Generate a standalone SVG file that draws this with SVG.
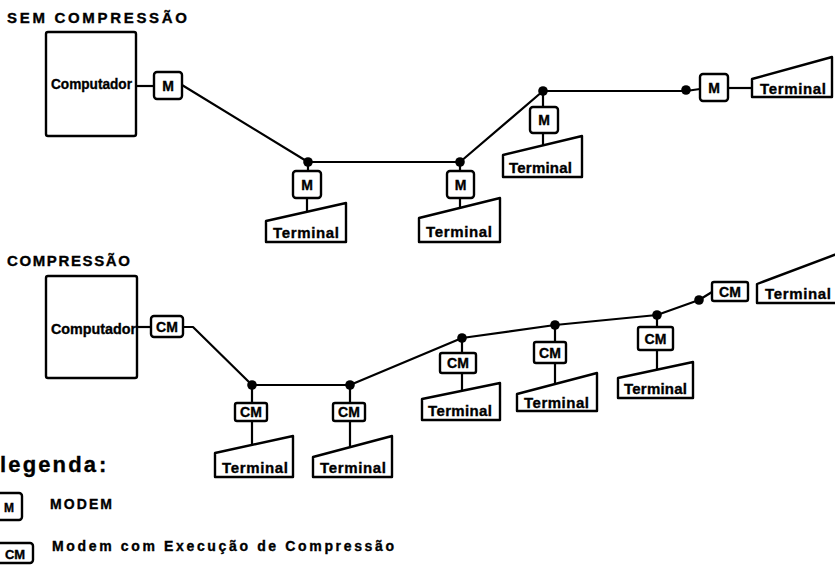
<svg xmlns="http://www.w3.org/2000/svg" width="835" height="565" viewBox="0 0 835 565">
  <style>
    .bg { fill: #ffffff; }
    .box { fill: #ffffff; stroke: #000000; stroke-width: 2.4; stroke-linejoin: round; }
    .line { fill: none; stroke: #000000; stroke-width: 2.2; stroke-linejoin: round; }
    .dot { fill: #000000; }
    .t { font-family: "Liberation Sans", Arial, sans-serif; font-weight: bold; fill: #000000; stroke: #000000; stroke-width: 0.35; }
    .title { font-size: 15px; }
    .lbl { font-size: 14.5px; }
    .term { font-size: 15px; }
    .mod { font-size: 14px; text-anchor: middle; }
    .leg { font-size: 22px; }
    .legtxt { font-size: 14px; }
  </style>
  <defs>
    <circle id="jn" r="4.8" class="dot"/>
  </defs>
  <rect class="bg" x="0" y="0" width="835" height="565"/>

  <!-- ===== without compression ===== -->
  <text class="t title" x="7" y="23" textLength="180" lengthAdjust="spacing">SEM COMPRESSÃO</text>

  <g id="connectors-top">
    <path class="line" d="M136,86 H154"/>
    <path class="line" d="M182,85 L308,162 H460 L543,91 H686 L700,89"/>
    <path class="line" d="M728,88 H752"/>
    <path class="line" d="M308,162 V171 M307,198 V212"/>
    <path class="line" d="M460,162 V171 M460,198 V209"/>
    <path class="line" d="M543,91 V107 M543,133 V146"/>
    <use href="#jn" x="308" y="162"/>
    <use href="#jn" x="460" y="162"/>
    <use href="#jn" x="543" y="91"/>
    <use href="#jn" x="686" y="90"/>
  </g>

  <g id="computador-1">
    <rect class="box" x="46" y="32" width="90" height="104" rx="2"/>
    <text class="t lbl" x="51" y="89" textLength="81" lengthAdjust="spacingAndGlyphs">Computador</text>
  </g>
  <g id="modem-1">
    <rect class="box" x="154" y="72" width="28" height="27" rx="3"/>
    <text class="t mod" x="168" y="91">M</text>
  </g>
  <g id="modem-2">
    <rect class="box" x="293" y="171" width="28" height="27" rx="3"/>
    <text class="t mod" x="307" y="190">M</text>
  </g>
  <g id="terminal-1">
    <polygon class="box" points="266,221 346,203 346,242 266,242"/>
    <text class="t term" x="273" y="238" textLength="66" lengthAdjust="spacing">Terminal</text>
  </g>
  <g id="modem-3">
    <rect class="box" x="447" y="171" width="27" height="27" rx="3"/>
    <text class="t mod" x="460.5" y="190">M</text>
  </g>
  <g id="terminal-2">
    <polygon class="box" points="419,218 500,198 500,242 419,242"/>
    <text class="t term" x="426" y="237" textLength="66" lengthAdjust="spacing">Terminal</text>
  </g>
  <g id="modem-4">
    <rect class="box" x="530" y="107" width="28" height="26" rx="3"/>
    <text class="t mod" x="544" y="125">M</text>
  </g>
  <g id="terminal-3">
    <polygon class="box" points="503,155 582,136 582,177 503,177"/>
    <text class="t term" x="509" y="173" textLength="63" lengthAdjust="spacing">Terminal</text>
  </g>
  <g id="modem-5">
    <rect class="box" x="700" y="74" width="28" height="27" rx="3"/>
    <text class="t mod" x="714" y="93">M</text>
  </g>
  <g id="terminal-4">
    <polygon class="box" points="752,79 832,57 832,97 752,97"/>
    <text class="t term" x="760" y="94" textLength="66" lengthAdjust="spacing">Terminal</text>
  </g>

  <!-- ===== with compression ===== -->
  <text class="t title" x="7" y="266" textLength="123" lengthAdjust="spacing">COMPRESSÃO</text>

  <g id="connectors-bottom">
    <path class="line" d="M137,327 H151"/>
    <path class="line" d="M183,327 H193 L252,385 H350 L462,338 L555,325 L657,315 L699,300 L712,292"/>
    <path class="line" d="M252,385 V403 M252,421 V445"/>
    <path class="line" d="M350,385 V403 M350,421 V446"/>
    <path class="line" d="M462,338 V353 M462,373 V391"/>
    <path class="line" d="M555,325 V342 M555,363 V388"/>
    <path class="line" d="M657,315 V327 M657,350 V370"/>
    <use href="#jn" x="252" y="385"/>
    <use href="#jn" x="350" y="385"/>
    <use href="#jn" x="462" y="338"/>
    <use href="#jn" x="555" y="325"/>
    <use href="#jn" x="657" y="315"/>
    <use href="#jn" x="699" y="300"/>
  </g>

  <g id="computador-2">
    <rect class="box" x="46" y="276" width="91" height="102" rx="2"/>
    <text class="t lbl" x="51" y="334" textLength="85" lengthAdjust="spacingAndGlyphs">Computador</text>
  </g>
  <g id="cm-1">
    <rect class="box" x="151" y="316" width="32" height="21" rx="3"/>
    <text class="t mod" x="167" y="332">CM</text>
  </g>
  <g id="cm-2">
    <rect class="box" x="235" y="403" width="32" height="18" rx="2"/>
    <text class="t mod" x="251" y="417">CM</text>
  </g>
  <g id="terminal-5">
    <polygon class="box" points="215,453 293,436 293,477 215,477"/>
    <text class="t term" x="222" y="473" textLength="66" lengthAdjust="spacing">Terminal</text>
  </g>
  <g id="cm-3">
    <rect class="box" x="333" y="403" width="32" height="18" rx="2"/>
    <text class="t mod" x="349" y="417">CM</text>
  </g>
  <g id="terminal-6">
    <polygon class="box" points="313,457 392,436 392,477 313,477"/>
    <text class="t term" x="320" y="473" textLength="66" lengthAdjust="spacing">Terminal</text>
  </g>
  <g id="cm-4">
    <rect class="box" x="440" y="353" width="36" height="20" rx="2"/>
    <text class="t mod" x="458" y="368">CM</text>
  </g>
  <g id="terminal-7">
    <polygon class="box" points="422,399 500,383 500,420 422,420"/>
    <text class="t term" x="428" y="416" textLength="64" lengthAdjust="spacing">Terminal</text>
  </g>
  <g id="cm-5">
    <rect class="box" x="534" y="342" width="32" height="21" rx="2"/>
    <text class="t mod" x="550" y="358">CM</text>
  </g>
  <g id="terminal-8">
    <polygon class="box" points="517,394 597,373 597,411 517,411"/>
    <text class="t term" x="524" y="408" textLength="65" lengthAdjust="spacing">Terminal</text>
  </g>
  <g id="cm-6">
    <rect class="box" x="638" y="327" width="35" height="23" rx="2"/>
    <text class="t mod" x="655.5" y="344">CM</text>
  </g>
  <g id="terminal-9">
    <polygon class="box" points="618,378 693,362 693,398 618,398"/>
    <text class="t term" x="624" y="394" textLength="63" lengthAdjust="spacing">Terminal</text>
  </g>
  <g id="cm-7">
    <rect class="box" x="712" y="282" width="36" height="19" rx="2"/>
    <text class="t mod" x="730" y="297">CM</text>
  </g>
  <g id="terminal-10">
    <polygon class="box" points="757,284 842,252 842,303 757,303"/>
    <text class="t term" x="765" y="299" textLength="66" lengthAdjust="spacing">Terminal</text>
  </g>

  <!-- ===== key ===== -->
  <g id="legenda">
    <text class="t leg" x="0" y="472" textLength="96" lengthAdjust="spacing">legenda</text>
    <text class="t leg" x="99" y="472">:</text>
    <rect class="box" x="-3" y="493" width="25" height="27" rx="3"/>
    <text class="t mod" x="9" y="512" style="font-size:12px">M</text>
    <text class="t legtxt" x="50" y="509" textLength="62" lengthAdjust="spacing">MODEM</text>
    <rect class="box" x="-3" y="543" width="36" height="20" rx="3"/>
    <text class="t mod" x="15" y="559" style="font-size:13px">CM</text>
    <text class="t legtxt" x="52" y="551" textLength="342" lengthAdjust="spacing">Modem com Execução de Compressão</text>
  </g>
</svg>
